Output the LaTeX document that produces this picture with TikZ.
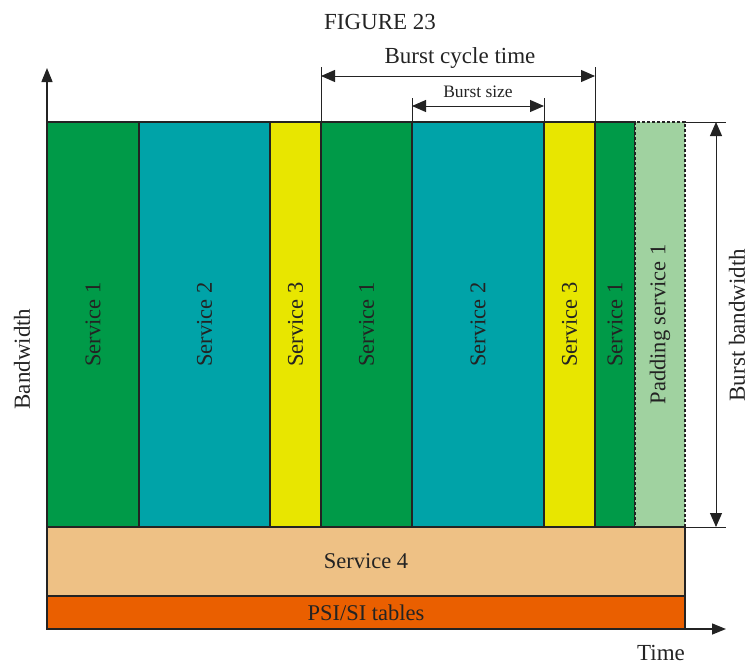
\documentclass[tikz,border=0pt]{standalone}
\usepackage{fontspec}
\setmainfont{Liberation Serif}
\usetikzlibrary{arrows.meta}
\definecolor{sgreen}{RGB}{0,154,72}
\definecolor{steal}{RGB}{0,163,168}
\definecolor{syellow}{RGB}{232,230,0}
\definecolor{spad}{RGB}{160,210,160}
\definecolor{sfour}{RGB}{238,193,133}
\definecolor{spsi}{RGB}{234,95,0}
\definecolor{ink}{RGB}{35,35,35}
\tikzset{
  col/.style={draw=ink, line width=1.4pt, rotate=90, inner sep=0pt, outer sep=0pt,
    minimum width=405pt, text=ink, font=\fontsize{22.5}{24}\selectfont},
  band/.style={draw=ink, line width=1.4pt, inner sep=0pt, outer sep=0pt,
    minimum width=638pt, text=ink, font=\fontsize{22.5}{24}\selectfont},
  lbl/.style={text=ink, inner sep=0pt, font=\fontsize{23}{24}\selectfont},
  slbl/.style={text=ink, inner sep=0pt, font=\fontsize{17.5}{19}\selectfont},
  tip/.style={-{Triangle[length=14pt,width=11pt]}},
  dtip/.style={{Triangle[length=14pt,width=12pt]}-{Triangle[length=14pt,width=12pt]}},
  thin/.style={draw=ink, line width=1pt},
  axis/.style={draw=ink, line width=1.4pt},
}
\begin{document}
\begin{tikzpicture}[x=1pt,y=-1pt]
\useasboundingbox (0,0) rectangle (749,664);
% columns
\node[col, fill=sgreen, minimum height=92pt] (c1) at (93,324.5) {Service 1};
\node[col, fill=steal, minimum height=131pt] (c2) at (204.5,324.5) {Service 2};
\node[col, fill=syellow, minimum height=51pt] (c3) at (295.5,324.5) {Service 3};
\node[col, fill=sgreen, minimum height=91pt] (c4) at (366.5,324.5) {Service 1};
\node[col, fill=steal, minimum height=132pt] (c5) at (478,324.5) {Service 2};
\node[col, fill=syellow, minimum height=51pt] (c6) at (569.5,324.5) {Service 3};
\node[col, fill=sgreen, minimum height=40pt] (c7) at (615,324.5) {Service 1};
\node[col, fill=spad, draw=ink, line width=1.2pt, dash pattern=on 3pt off 2pt, minimum height=50pt] (c8) at (660,324.5) {Padding service 1};
% bands
\node[band, fill=sfour, minimum height=69pt] (s4) at (366,561.5) {Service 4};
\node[band, fill=spsi, minimum height=33pt] (psi) at (366,612.5) {PSI/SI tables};
% axes
\coordinate (O) at (47,629);
\coordinate (ytop) at (47,68);
\coordinate (xend) at (726,629);
\draw[axis, tip] (O) -- (ytop);
\draw[axis, tip] (O) -- (xend);
% burst cycle time
\coordinate (bc1a) at (321,67);
\coordinate (bc1b) at (321,122);
\coordinate (bc2a) at (595,67);
\coordinate (bc2b) at (595,122);
\coordinate (bcl) at (321,76);
\coordinate (bcr) at (595,76);
\draw[thin] (bc1a) -- (bc1b);
\draw[thin] (bc2a) -- (bc2b);
\draw[thin, dtip] (bcl) -- (bcr);
% burst size
\coordinate (bs1a) at (412,98);
\coordinate (bs1b) at (412,122);
\coordinate (bs2a) at (544,98);
\coordinate (bs2b) at (544,122);
\coordinate (bsl) at (412,106);
\coordinate (bsr) at (544,106);
\draw[thin] (bs1a) -- (bs1b);
\draw[thin] (bs2a) -- (bs2b);
\draw[thin, dtip] (bsl) -- (bsr);
% burst bandwidth
\coordinate (bwt1) at (685,122);
\coordinate (bwt2) at (726,122);
\coordinate (bwb1) at (685,527);
\coordinate (bwb2) at (726,527);
\coordinate (bwt) at (716,122);
\coordinate (bwb) at (716,527);
\draw[thin] (bwt1) -- (bwt2);
\draw[thin] (bwb1) -- (bwb2);
\draw[thin, dtip] (bwt) -- (bwb);
% labels
\node[lbl] (title) at (380,22) {FIGURE 23};
\node[lbl] (bct) at (460,58) {Burst cycle time};
\node[slbl] (bsz) at (478,92) {Burst size};
\node[lbl, rotate=90] (bw) at (22,359) {Bandwidth};
\node[lbl, rotate=90] (bbw) at (737,325) {Burst bandwidth};
\node[lbl] (time) at (661,653) {Time};
\end{tikzpicture}
\end{document}
